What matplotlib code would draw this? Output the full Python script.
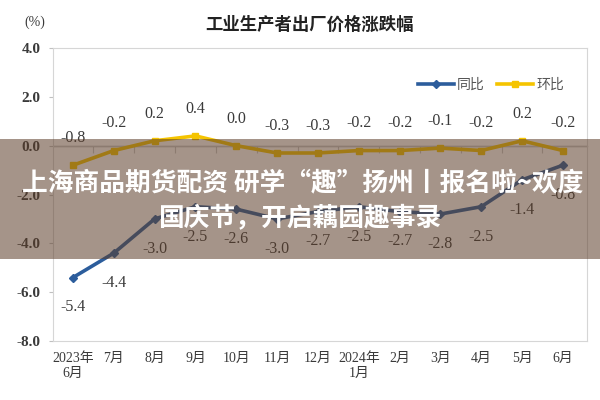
import matplotlib.pyplot as plt
from matplotlib.patches import Rectangle

plt.rcParams['font.family'] = ['Liberation Serif', 'Noto Sans CJK SC', 'DejaVu Sans']

months = ['2023年\n6月', '7月', '8月', '9月', '10月', '11月', '12月',
          '2024年\n1月', '2月', '3月', '4月', '5月', '6月']
yoy = [-5.4, -4.4, -3.0, -2.5, -2.6, -3.0, -2.7, -2.5, -2.7, -2.8, -2.5, -1.4, -0.8]
mom = [-0.8, -0.2, 0.2, 0.4, 0.0, -0.3, -0.3, -0.2, -0.2, -0.1, -0.2, 0.2, -0.2]

blue = '#2c5d9c'
gold = '#f5c400'
txt = '#3a3a3a'

fig = plt.figure(figsize=(6, 4), dpi=100)
ax = fig.add_axes([0.0883, 0.1475, 0.89, 0.7325])

x = list(range(len(months)))
ax.plot(x, yoy, color=blue, lw=2.6, marker='D', ms=4, label='同比', zorder=3)
ax.plot(x, mom, color=gold, lw=2.6, marker='s', ms=4, label='环比', zorder=3)

# data labels
for i, v in enumerate(mom):
    ax.annotate(f'{v:.1f}', (i, v), xytext=(0, 19.5), textcoords='offset points',
                ha='center', va='center', fontsize=11.5, color=txt)
for i, v in enumerate(yoy):
    ax.annotate(f'{v:.1f}', (i, v), xytext=(0, -21.5), textcoords='offset points',
                ha='center', va='center', fontsize=11.5, color=txt)

ax.set_xlim(-0.49, len(months) - 0.41)
ax.set_ylim(-8, 4)
ax.set_yticks([4, 2, 0, -2, -4, -6, -8])
ax.set_yticklabels(['4.0', '2.0', '0.0', '-2.0', '-4.0', '-6.0', '-8.0'])
ax.set_xticks(x)
ax.set_xticklabels(months)
ax.tick_params(axis='x', which='major', length=0, labelsize=10, colors=txt, pad=8)
ax.tick_params(axis='y', length=3, color='#c0c0c0', labelsize=11, colors=txt, pad=6)
for lab in ax.get_yticklabels():
    lab.set_fontweight('bold')
for s in ax.spines.values():
    s.set_color('#d6d6d6')

# category axis crossing at zero
ax.axhline(0, color='#c8c8c8', lw=0.9, zorder=1)
y0, y1 = ax.get_ylim()
sec = ax.secondary_xaxis((0 - y0) / (y1 - y0))
sec.set_xticks([i + 0.5 for i in x[:-1]])
sec.set_xticklabels([])
sec.tick_params(length=5, color='#c8c8c8', direction='in')
sec.spines['bottom'].set_visible(False)

ax.legend(loc='center right', bbox_to_anchor=(0.98, 0.875), ncol=2, frameon=False,
          fontsize=9, handlelength=2.6, columnspacing=0.9, handletextpad=0.2,
          labelcolor='#555555', prop={'family': ['Noto Sans CJK SC']})

fig.text(0.515, 0.9375, '工业生产者出厂价格涨跌幅', ha='center', va='center',
         fontsize=12.5, color='#222222', weight='bold', family=['Noto Sans CJK SC'])
fig.text(0.058, 0.945, '(%)', ha='center', va='center', fontsize=10, color=txt)

# overlay banner
fig.patches.append(Rectangle((0, 0.3525), 1, 0.3, transform=fig.transFigure,
                             facecolor=(0.36, 0.24, 0.16), alpha=0.55, zorder=5))
fig.text(0.505, 0.5425, '上海商品期货配资 研学“趣”扬州丨报名啦~欢度', ha='center', va='center',
         fontsize=18.5, color='white', weight='bold', zorder=6,
         family=['Noto Sans CJK SC', 'DejaVu Sans'])
fig.text(0.5, 0.455, '国庆节，开启藕园趣事录', ha='center', va='center',
         fontsize=18.5, color='white', weight='bold', zorder=6,
         family=['Noto Sans CJK SC', 'DejaVu Sans'])

fig.savefig('out.png', dpi=100)
